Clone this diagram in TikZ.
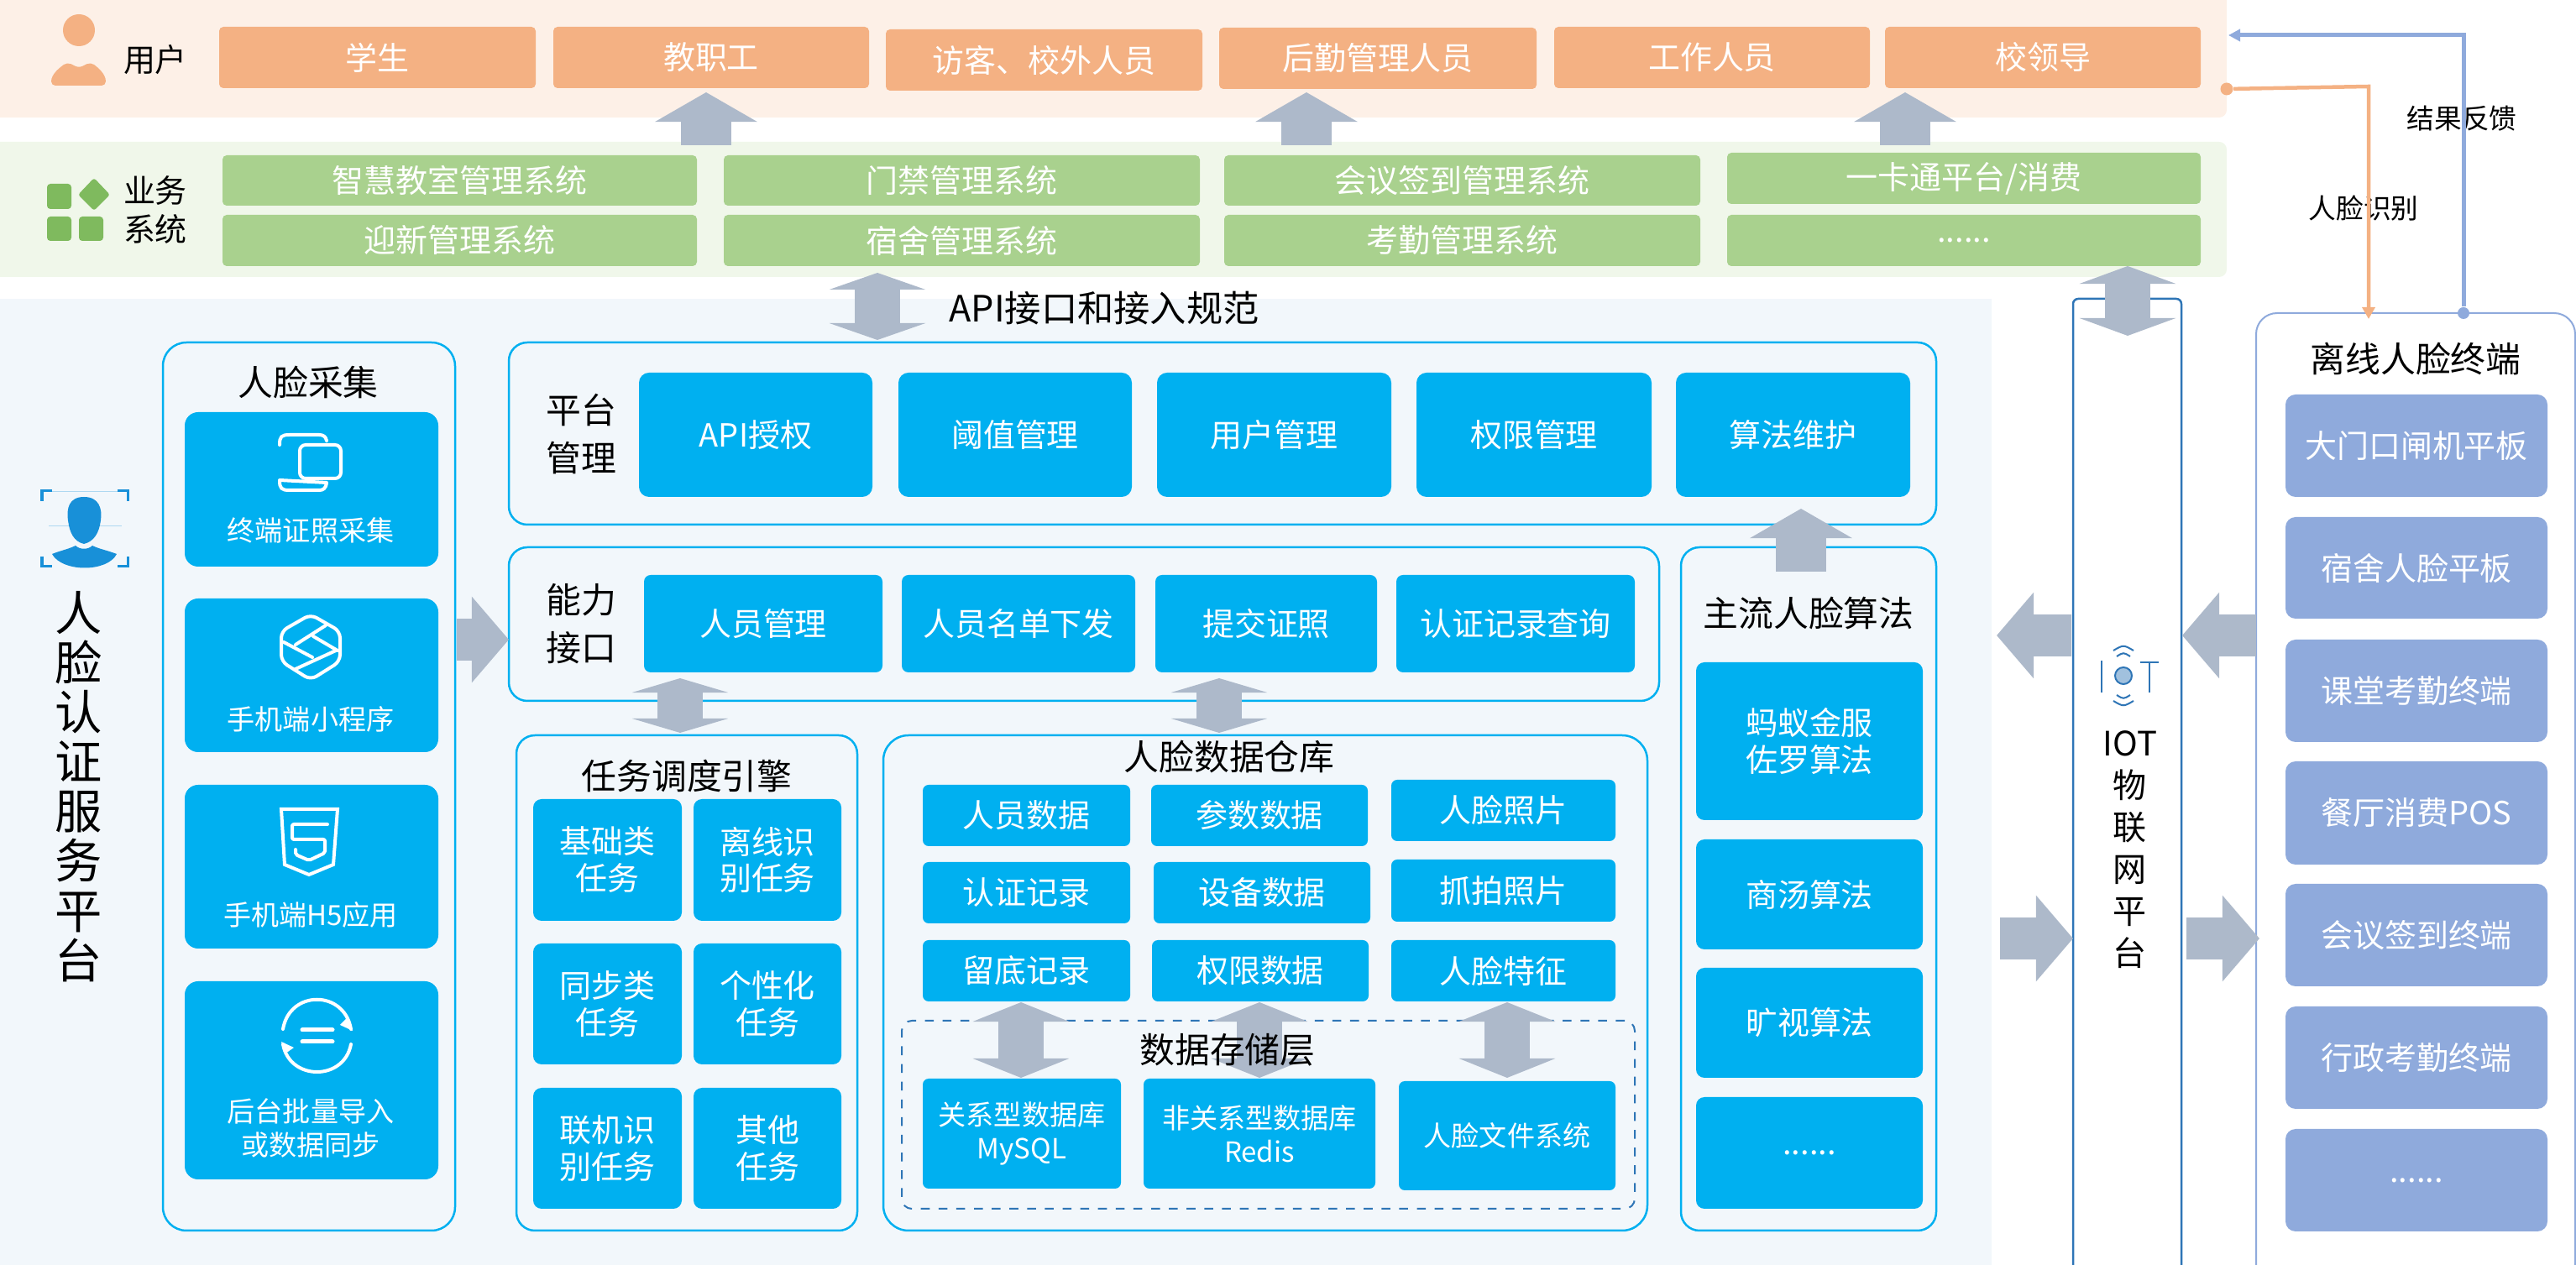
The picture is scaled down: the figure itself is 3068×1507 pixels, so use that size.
\documentclass[tikz,border=0pt]{standalone}
\usepackage{fontspec}
\setmainfont{Noto Sans CJK SC}
\definecolor{userband}{HTML}{FDF0E7}
\definecolor{sysband}{HTML}{F0F7EA}
\definecolor{mainband}{HTML}{F2F7FB}
\definecolor{usertile}{HTML}{F4B183}
\definecolor{systile}{HTML}{A9D18E}
\definecolor{sysicon}{HTML}{7FBA5E}
\definecolor{skyblue}{HTML}{00B0F0}
\definecolor{termblue}{HTML}{8FAADC}
\definecolor{iotblue}{HTML}{2E75B6}
\definecolor{facedark}{HTML}{1890D8}
\definecolor{bigarrow}{HTML}{ADB9CA}
\usetikzlibrary{arrows.meta}
% box given by its two corners, in pixels of the picture
\newcommand{\pxbox}[7]{\node[#1, minimum width={(#5-#3)*0.01cm}, minimum height={(#6-#4)*0.01cm}] (#2) at ({(#3+#5)/2},{(#4+#6)/2}) {#7};}
\tikzset{
  txtsmall/.style={font=\fontsize{9.4pt}{11.3pt}\selectfont},
  txtmid/.style={font=\fontsize{10.8pt}{12.5pt}\selectfont},
  txtbig/.style={font=\fontsize{11.9pt}{14pt}\selectfont},
  tile/.style={inner sep=0pt, align=center, text=white, rounded corners=0.05cm, txtmid},
  usertile/.style={tile, fill=usertile},
  systile/.style={tile, fill=systile},
  skytile/.style={tile, fill=skyblue, rounded corners=0.12cm},
  datatile/.style={tile, fill=skyblue, rounded corners=0.07cm},
  termtile/.style={tile, fill=termblue, rounded corners=0.12cm},
  band/.style={inner sep=0pt, rounded corners=0.09cm},
  panel/.style={inner sep=0pt, draw=skyblue, line width=0.025cm, rounded corners=0.22cm},
  oneway/.style n args={3}{draw=bigarrow, line width=#1, -{Triangle[length=#2,width=#3]}},
  twoway/.style n args={3}{draw=bigarrow, line width=#1, {Triangle[length=#2,width=#3]}-{Triangle[length=#2,width=#3]}},
  iconline/.style={draw=white, line width=0.04cm, line cap=round, line join=round},
  feedline/.style={draw=termblue, line width=0.05cm},
  askline/.style={draw=usertile, line width=0.045cm}
}
\begin{document}
\begin{tikzpicture}[x=0.01cm,y=-0.01cm]
\useasboundingbox (0,0) rectangle (3068,1507);

% Bands
\pxbox{band, fill=userband}{userBand}{-20}{-20}{2652}{140}{}
\pxbox{band, fill=sysband}{sysBand}{-20}{169}{2652}{330}{}
\pxbox{inner sep=0pt, fill=mainband}{mainBand}{0}{356}{2372}{1507}{}

% Users
\foreach \n/\xa/\ya/\xb/\yb/\t in {stu/261/32/638/105/学生, staff/659/32/1035/105/教职工,
    guest/1055/35/1432/108/访客、校外人员, logi/1452/33/1830/106/后勤管理人员,
    work/1851/32/2227/105/工作人员, lead/2245/32/2621/105/校领导}
  {\pxbox{usertile}{\n}{\xa}{\ya}{\xb}{\yb}{\t}}
\fill[usertile] (94,36) ellipse (19 and 19);
\fill[usertile] (61,102) .. controls (61,88) and (72,80) .. (80,74) -- (94,81) -- (108,74) .. controls (116,80) and (126,88) .. (126,102) -- cycle;
\node[txtmid] (userLbl) at (185,71) {用户};

% Business systems
\foreach \n/\xa/\ya/\xb/\yb/\t in {sysA/265/185/830/245/智慧教室管理系统, sysB/265/256/830/317/迎新管理系统,
    sysC/862/185/1429/245/门禁管理系统, sysD/862/256/1429/317/宿舍管理系统,
    sysE/1458/185/2025/245/会议签到管理系统, sysF/1458/256/2025/317/考勤管理系统,
    sysG/2057/182/2621/243/{一卡通平台/消费}}
  {\pxbox{systile}{\n}{\xa}{\ya}{\xb}{\yb}{\t}}
\pxbox{systile}{sysH}{2057}{256}{2621}{317}{......}
\fill[sysicon, rounded corners=0.04cm] (56,219) rectangle (85,249);
\fill[sysicon, rounded corners=0.04cm] (56,258) rectangle (85,287);
\fill[sysicon, rounded corners=0.04cm] (94,258) rectangle (123,287);
\fill[sysicon, rounded corners=0.03cm] (112,212) -- (131,232) -- (112,251) -- (93,232) -- cycle;
\node[txtmid, align=center] (sysLbl) at (185,250) {业务\\[0.4pt]系统};

% Platform title and face icon
\node[font=\fontsize{16pt}{16.8pt}\selectfont, align=center] (faceLbl) at (94,937) {人\\脸\\认\\证\\服\\务\\平\\台};
\draw[facedark, line width=0.03cm] (50,597) -- (50,585) -- (62,585) (140,585) -- (152,585) -- (152,597)
  (50,663) -- (50,675) -- (62,675) (140,675) -- (152,675) -- (152,663);
\draw[facedark!35, line width=0.01cm] (58,627) -- (145,627) (62,586) -- (140,586);
\fill[facedark] (100,592) .. controls (82,592) and (79,606) .. (81,620) .. controls (83,635) and (88,645) .. (100,648) .. controls (112,645) and (118,635) .. (120,620) .. controls (122,606) and (118,592) .. (100,592) -- cycle;
\fill[facedark] (62,660) .. controls (72,656) and (82,654) .. (90,650) .. controls (95,655) and (105,655) .. (110,650) .. controls (118,654) and (129,656) .. (139,660) .. controls (128,682) and (74,682) .. (62,660) -- cycle;

% Face capture
\pxbox{panel, rounded corners=0.28cm}{capture}{194}{408}{542}{1466}{}
\node[txtbig] (captureLbl) at (367,455) {人脸采集};
\foreach \n/\ya/\yb in {capA/491/675, capB/713/896, capC/935/1130, capD/1169/1405}
  {\pxbox{skytile, rounded corners=0.16cm}{\n}{220}{\ya}{522}{\yb}{}}
\foreach \n/\y/\t in {capAl/632/终端证照采集, capBl/857/手机端小程序, capCl/1090/手机端H5应用, capDl/1344/后台批量导入\\或数据同步}
  \node[txtsmall, text=white, align=center] (\n) at (370,\y) {\t};
% icons of the four capture tiles
\draw[iconline] (333,530) .. controls (333,520) and (335,518) .. (345,518) -- (380,518) .. controls (385,518) and (388,520) .. (389,525) (389,575) .. controls (388,582) and (385,584) .. (380,584) -- (345,584) .. controls (335,584) and (333,582) .. (333,572) -- cycle;
\draw[iconline, fill=skyblue, rounded corners=0.07cm] (357,530) rectangle (406,570);
\draw[iconline, rounded corners=0.08cm] (370,732) -- (405,752) -- (405,788) -- (370,810) -- (335,788) -- (335,752) -- cycle;
\draw[iconline] (388,745) -- (352,768) (338,765) -- (372,783) (373,758) -- (402,775) (400,775) -- (352,797);
\draw[iconline, line join=miter] (335,964) -- (402,964) -- (397,1030) -- (368,1042) -- (339,1030) -- cycle;
\draw[iconline, rounded corners=0.02cm] (390,982) -- (348,982) -- (348,1000) -- (387,1000) -- (387,1016) -- (368,1025) -- (352,1018) -- (352,1012);
\draw[iconline] (337,1226) .. controls (345,1179) and (410,1179) .. (418,1226);
\draw[iconline] (337,1244) .. controls (345,1288) and (410,1288) .. (418,1244);
\draw[iconline, line width=0.05cm] (360,1227) -- (396,1227) (360,1241) -- (396,1241);
\fill[white] (405,1221) -- (413,1213) -- (420,1228) -- cycle;
\fill[white] (335,1241) -- (350,1248) -- (340,1255) -- cycle;

% Platform management
\pxbox{panel}{manage}{606}{408}{2306}{625}{}
\node[txtbig, align=center] (manageLbl) at (692,517) {平台\\[2pt]管理};
\foreach \n/\xa/\xb/\t in {apiKey/761/1039/API授权, threshold/1070/1348/阈值管理, userMgr/1378/1657/用户管理, rights/1687/1967/权限管理, algoMgr/1996/2275/算法维护}
  {\pxbox{skytile}{\n}{\xa}{444}{\xb}{592}{\t}}

% Capability interface
\pxbox{panel}{ability}{606}{652}{1976}{835}{}
\node[txtbig, align=center] (abilityLbl) at (692,743) {能力\\[2pt]接口};
\foreach \n/\xa/\xb/\t in {people/767/1051/人员管理, issue/1074/1352/人员名单下发, papers/1376/1640/提交证照, query/1663/1947/认证记录查询}
  {\pxbox{skytile, rounded corners=0.08cm}{\n}{\xa}{685}{\xb}{801}{\t}}

% Task engine
\pxbox{panel}{engine}{615}{876}{1021}{1466}{}
\node[txtbig] (engineLbl) at (818,925) {任务调度引擎};
\foreach \n/\xa/\ya/\xb/\yb/\t in {taskA/635/952/812/1097/基础类\\任务, taskB/826/952/1002/1097/离线识\\别任务,
    taskC/635/1124/812/1268/同步类\\任务, taskD/826/1124/1002/1268/个性化\\任务,
    taskE/635/1296/812/1440/联机识\\别任务, taskF/826/1296/1002/1440/其他\\任务}
  {\pxbox{datatile, rounded corners=0.1cm}{\n}{\xa}{\ya}{\xb}{\yb}{\t}}

% Face data warehouse
\pxbox{panel, rounded corners=0.3cm}{store}{1052}{876}{1962}{1466}{}
\node[txtbig] (storeLbl) at (1464,902) {人脸数据仓库};
\foreach \n/\xa/\ya/\xb/\yb/\t in {dataA/1099/935/1346/1008/人员数据, dataB/1371/935/1629/1008/参数数据, dataC/1657/929/1924/1002/人脸照片,
    dataD/1099/1027/1346/1100/认证记录, dataE/1374/1027/1632/1100/设备数据, dataF/1657/1024/1924/1098/抓拍照片,
    dataG/1099/1120/1346/1193/留底记录, dataH/1372/1120/1630/1193/权限数据, dataI/1657/1120/1924/1193/人脸特征}
  {\pxbox{datatile}{\n}{\xa}{\ya}{\xb}{\yb}{\t}}
\pxbox{inner sep=0pt, draw=iotblue, dashed, line width=0.02cm, rounded corners=0.12cm}{layer}{1074}{1216}{1947}{1440}{}
\foreach \n/\xa/\ya/\xb/\yb/\t in {dbA/1099/1285/1335/1416/关系型数据库\\MySQL, dbB/1362/1285/1638/1416/非关系型数据库\\Redis, dbC/1666/1288/1924/1418/人脸文件系统}
  {\pxbox{datatile, txtsmall}{\n}{\xa}{\ya}{\xb}{\yb}{\t}}

% Mainstream algorithms
\pxbox{panel}{algos}{2002}{652}{2306}{1466}{}
\node[txtbig] (algosLbl) at (2154,730) {主流人脸算法};
\foreach \n/\ya/\yb/\t in {algoA/789/977/蚂蚁金服\\佐罗算法, algoB/1000/1131/商汤算法, algoC/1153/1284/旷视算法}
  {\pxbox{datatile, rounded corners=0.1cm}{\n}{2020}{\ya}{2290}{\yb}{\t}}
\pxbox{datatile, rounded corners=0.1cm}{algoD}{2020}{1307}{2290}{1440}{......}

% IOT platform
\pxbox{inner sep=0pt, fill=white, draw=iotblue, line width=0.025cm, rounded corners=0.06cm}{iot}{2469}{356}{2598}{1520}{}
\node[font=\fontsize{11.4pt}{14.2pt}\selectfont, align=center] (iotLbl) at (2537,1012) {IOT\\物\\联\\网\\平\\台};
\draw[iotblue, line width=0.025cm] (2503,787) -- (2503,825) (2549,789) -- (2571,789) (2560,789) -- (2560,825);
\draw[iotblue, fill=iotblue!45, line width=0.02cm] (2529,805) circle (10);
\draw[iotblue, line width=0.02cm] (2517,775) .. controls (2529,768) .. (2541,775) (2521,782) .. controls (2529,777) .. (2537,782)
  (2517,835) .. controls (2529,842) .. (2541,835) (2521,828) .. controls (2529,833) .. (2537,828);

% Offline terminals
\pxbox{inner sep=0pt, fill=white, draw=termblue, line width=0.02cm, rounded corners=0.25cm}{terminal}{2687}{373}{3067}{1530}{}
\node[txtbig] (terminalLbl) at (2877,428) {离线人脸终端};
\foreach \n/\ya/\yb/\t in {termA/470/592/大门口闸机平板, termB/616/737/宿舍人脸平板, termC/762/884/课堂考勤终端,
    termD/907/1030/餐厅消费POS, termE/1053/1175/会议签到终端, termF/1199/1321/行政考勤终端}
  {\pxbox{termtile}{\n}{2722}{\ya}{3034}{\yb}{\t}}
\pxbox{termtile}{termG}{2722}{1345}{3034}{1467}{......}

% Block arrows, one way
\foreach \n/\xa/\ya/\xb/\yb in {upA/841/173/841/110, upB/1556/173/1556/110, upC/2269/173/2269/110, upD/2145/681/2145/606}{
  \coordinate (\n-s) at (\xa,\ya);
  \coordinate (\n-e) at (\xb,\yb);
  \draw[oneway={0.6cm}{0.35cm}{1.2cm}] (\n-s) -- (\n-e);
}
\foreach \n/\xa/\ya/\xb/\yb in {sideA/2467/757/2378/757, sideB/2687/757/2599/757, sideC/2382/1118/2469/1118, sideD/2604/1118/2691/1118, sideE/544/762/606/762}{
  \coordinate (\n-s) at (\xa,\ya);
  \coordinate (\n-e) at (\xb,\yb);
  \draw[oneway={0.5cm}{0.44cm}{1cm}] (\n-s) -- (\n-e);
}
% Block arrows, both ways
\foreach \n/\x/\ya/\yb/\l in {apiGate/1045/325/405/0.2cm, iotGate/2534/317/400/0.21cm, engGate/810/808/873/0.17cm, dwhGate/1452/808/873/0.17cm,
    dbGateA/1216/1194/1284/0.23cm, dbGateB/1500/1194/1284/0.23cm, dbGateC/1795/1194/1284/0.23cm}{
  \coordinate (\n-s) at (\x,\ya);
  \coordinate (\n-e) at (\x,\yb);
  \draw[twoway={0.54cm}{\l}{1.14cm}] (\n-s) -- (\n-e);
}
\node[font=\fontsize{12.3pt}{14pt}\selectfont] (apiLbl) at (1315,367) {API接口和接入规范};
\node[txtbig] (layerLbl) at (1462,1251) {数据存储层};

% Feedback and recognition lines
\node[font=\fontsize{9.3pt}{11pt}\selectfont] (askLbl) at (2815,248) {人脸识别};
\node[font=\fontsize{9.3pt}{11pt}\selectfont] (feedLbl) at (2932,141) {结果反馈};
\node[circle, fill=termblue, inner sep=0pt, minimum size=0.14cm] (feedDot) at (2934,373) {};
\coordinate (feedEnd) at (2654,42);
\draw[feedline, -{Triangle[length=0.14cm,width=0.14cm]}] (feedDot) |- (feedEnd);
\node[circle, fill=usertile, inner sep=0pt, minimum size=0.15cm] (askDot) at (2652,106) {};
\coordinate (askTurn) at (2821,103);
\coordinate (askEnd) at (2821,380);
\draw[askline, -{Triangle[length=0.14cm,width=0.15cm]}] (askDot) -- (askTurn) -- (askEnd);
\end{tikzpicture}
\end{document}
